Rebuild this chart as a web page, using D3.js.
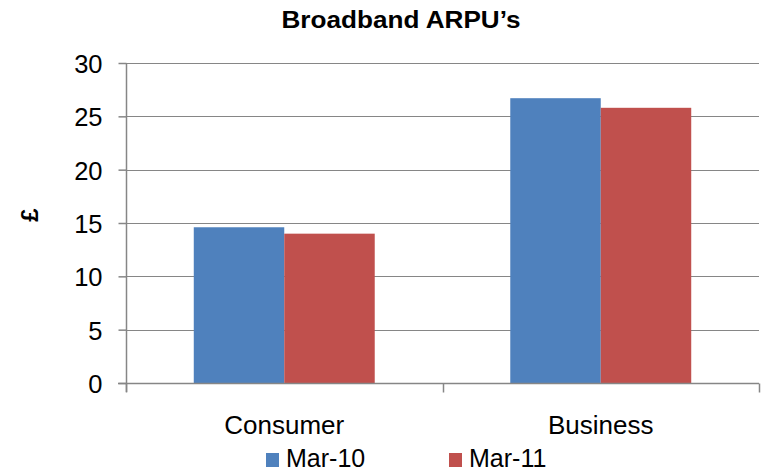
<!DOCTYPE html>
<html>
<head>
<meta charset="utf-8">
<script src="https://cdn.jsdelivr.net/npm/d3@7"></script>
<style>
  html, body { margin: 0; padding: 0; background: #fff; }
  svg { display: block; font-family: "Liberation Sans", Arial, sans-serif; }
</style>
</head>
<body>
<svg id="chart" width="763" height="473"></svg>
<script>
const categories = ["Consumer", "Business"];
const seriesNames = ["Mar-10", "Mar-11"];
const mar10 = [14.6, 26.7];
const mar11 = [14.0, 25.8];
const yTicks = [0, 5, 10, 15, 20, 25, 30];
const colors = ["#4F81BD", "#C0504D"];

(function () {
const seriesValues = [mar10, mar11];
const svg = d3.select("#chart");

const pLeft = 126, pRight = 759, pTop = 63, pBottom = 383;
const y = d3.scaleLinear().domain([0, 30]).range([pBottom, pTop]);
const x0 = d3.scaleBand().domain(categories).range([pLeft, pRight]).paddingInner(0).paddingOuter(0);
const x1 = d3.scaleBand().domain(seriesNames).range([0, x0.bandwidth()]).paddingInner(0).paddingOuter(0.749);

const axisColor = "#868686";

// gridlines
svg.append("g").selectAll("line").data(yTicks.filter(d => d > 0)).join("line")
  .attr("x1", pLeft).attr("x2", pRight)
  .attr("y1", d => Math.round(y(d)) + 0.5).attr("y2", d => Math.round(y(d)) + 0.5)
  .attr("stroke", axisColor).attr("stroke-width", 1.2);

// bars
const groups = svg.append("g").selectAll("g").data(categories).join("g")
  .attr("transform", c => `translate(${x0(c)},0)`);
groups.selectAll("rect").data((c, i) => seriesNames.map((s, j) => ({s, v: seriesValues[j][i], j})))
  .join("rect")
  .attr("x", d => x1(d.s)).attr("width", x1.bandwidth())
  .attr("y", d => y(d.v)).attr("height", d => y(0) - y(d.v))
  .attr("fill", d => colors[d.j]);

// y axis
const yAxis = d3.axisLeft(y).tickValues(yTicks).tickSize(8).tickPadding(16).tickFormat(d3.format("d"));
const gy = svg.append("g").attr("transform", `translate(${pLeft + 0.5},0)`).call(yAxis);
gy.select(".domain").attr("stroke", axisColor).attr("stroke-width", 1.5).attr("d", `M0,${pTop}V${pBottom + 9}`);
gy.selectAll(".tick line").attr("stroke", axisColor).attr("stroke-width", 1.5);
gy.selectAll(".tick text").attr("font-size", 25.5).attr("fill", "#000").attr("dy", "0.37em")
  .attr("font-family", "'Liberation Sans', Arial, sans-serif");

// x axis
const gx = svg.append("g").attr("transform", `translate(0,${pBottom + 0.5})`);
gx.append("line").attr("x1", pLeft - 8).attr("x2", pRight).attr("y1", 0).attr("y2", 0)
  .attr("stroke", axisColor).attr("stroke-width", 1.5);
const xb = [pLeft, ...categories.map(c => x0(c) + x0.bandwidth())];
gx.selectAll("line.tk").data(xb).join("line").attr("class", "tk")
  .attr("x1", d => Math.round(d) + 0.5).attr("x2", d => Math.round(d) + 0.5)
  .attr("y1", 0).attr("y2", 9).attr("stroke", axisColor).attr("stroke-width", 1.5);
gx.selectAll("text").data(categories).join("text")
  .attr("x", c => x0(c) + x0.bandwidth() / 2).attr("y", 433 - pBottom)
  .attr("text-anchor", "middle").attr("font-size", 26).attr("fill", "#000").text(c => c);

// title
svg.append("text").attr("x", 401).attr("y", 28).attr("text-anchor", "middle")
  .attr("font-size", 23).attr("font-weight", "bold").attr("fill", "#000")
  .attr("textLength", 239).attr("lengthAdjust", "spacingAndGlyphs")
  .text("Broadband ARPU’s");

// y label
svg.append("text").attr("transform", "translate(38,215) rotate(-90)")
  .attr("text-anchor", "middle").attr("font-size", 24).attr("font-weight", "bold").attr("fill", "#000")
  .text("£");

// legend
const legendX = [266, 449];
const lg = svg.append("g").selectAll("g").data(seriesNames).join("g")
  .attr("transform", (d, i) => `translate(${legendX[i]},0)`);
lg.append("rect").attr("x", 0).attr("y", 453).attr("width", 13).attr("height", 14)
  .attr("fill", (d, i) => colors[i]);
lg.append("text").attr("x", 20).attr("y", 467).attr("font-size", 25).attr("fill", "#000").text(d => d);
})();
</script>
</body>
</html>
